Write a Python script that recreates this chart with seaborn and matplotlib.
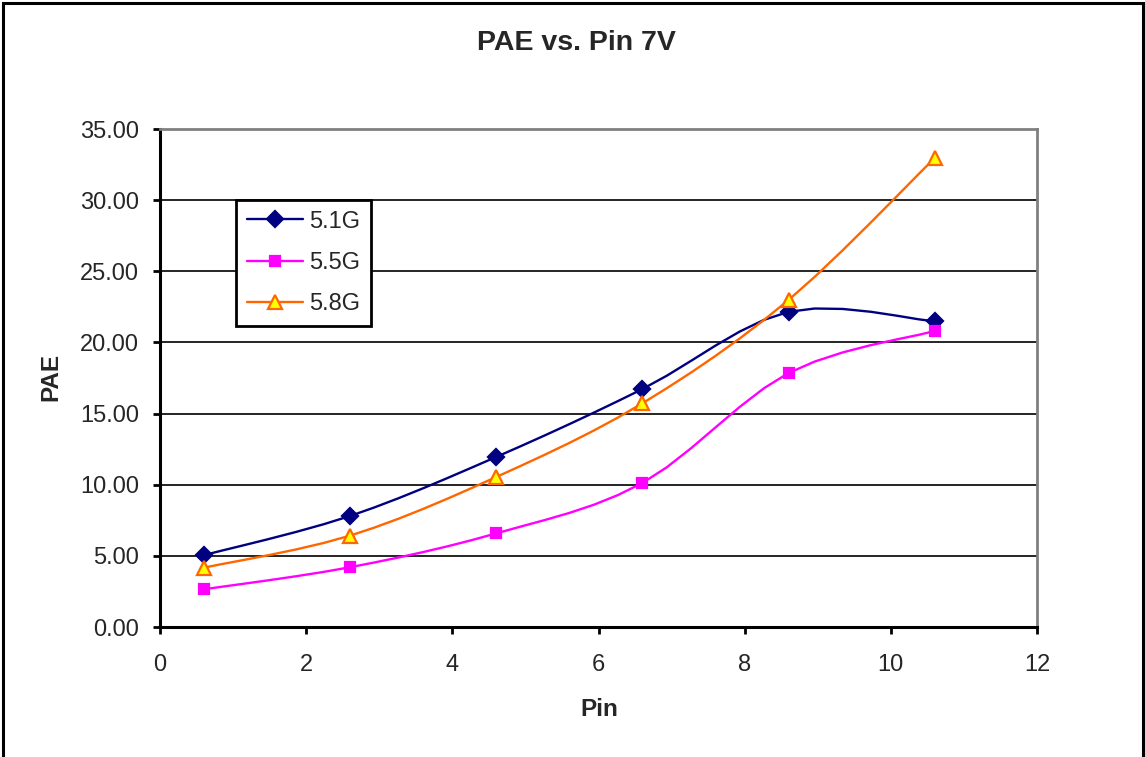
import numpy as np
import pandas as pd
import matplotlib
matplotlib.use("Agg")
import matplotlib.pyplot as plt
from matplotlib.lines import Line2D
import seaborn as sns

# Input power sweep (Pin) and measured PAE for each frequency
pin = [0.6, 2.6, 4.6, 6.6, 8.6, 10.6]
pae_51g = [5.05, 7.80, 11.95, 16.72, 22.15, 21.48]
pae_55g = [2.65, 4.20, 6.58, 10.12, 17.85, 20.80]
pae_58g = [4.17, 6.42, 10.54, 15.72, 22.98, 32.96]

series_names = ["5.1G", "5.5G", "5.8G"]
x_ticks = [0, 2, 4, 6, 8, 10, 12]
y_ticks = [0, 5, 10, 15, 20, 25, 30, 35]

styles = {
    "5.1G": dict(color="#000080", marker="D", mfc="#000080", mec="#000080", ms=8.5),
    "5.5G": dict(color="#FF00FF", marker="s", mfc="#FF00FF", mec="#FF00FF", ms=7.5),
    "5.8G": dict(color="#FF6600", marker="^", mfc="#FFFF00", mec="#FF6600", ms=9.5),
}


def smooth_path(x, y, steps=6):
    """Catmull-Rom style smoothed polyline through the given points."""
    x = np.asarray(x, float)
    y = np.asarray(y, float)
    px = np.concatenate([[x[0]], x, [x[-1]]])
    py = np.concatenate([[y[0]], y, [y[-1]]])
    xs, ys = [x[0]], [y[0]]
    for i in range(1, len(px) - 2):
        p0, p1, p2, p3 = (np.array([px[j], py[j]]) for j in (i - 1, i, i + 1, i + 2))
        c1 = p1 + (p2 - p0) / 6.0
        c2 = p2 - (p3 - p1) / 6.0
        for t in np.linspace(0, 1, steps + 1)[1:]:
            b = ((1 - t) ** 3) * p1 + 3 * ((1 - t) ** 2) * t * c1 + 3 * (1 - t) * t ** 2 * c2 + t ** 3 * p2
            xs.append(b[0])
            ys.append(b[1])
    return np.array(xs), np.array(ys)


sns.set_theme(style="white")
plt.rcParams["font.family"] = ["Liberation Sans", "DejaVu Sans"]

W, H = 1145, 757
fig = plt.figure(figsize=(W / 100, H / 100), dpi=100)
ax = fig.add_axes([160 / W, 1 - 627 / H, 877 / W, 498 / H])

# outer chart border
fig.patches.append(plt.Rectangle((3 / W, -0.01), 1139.5 / W, 1.01 - 3 / H, transform=fig.transFigure,
                                 fill=False, edgecolor="black", linewidth=2.2, zorder=0))

for name, vals in zip(series_names, [pae_51g, pae_55g, pae_58g]):
    st = styles[name]
    sx, sy = smooth_path(pin, vals)
    curve = pd.DataFrame({"Pin": sx, "PAE": sy})
    sns.lineplot(data=curve, x="Pin", y="PAE", ax=ax, color=st["color"], linewidth=1.7,
                 sort=False, estimator=None, zorder=3)
    ax.plot(pin, vals, linestyle="none", marker=st["marker"], markersize=st["ms"],
            markerfacecolor=st["mfc"], markeredgecolor=st["mec"], markeredgewidth=1.6, zorder=4)

ax.set_xlim(0, 12)
ax.set_ylim(0, 35)
ax.set_xticks(x_ticks)
ax.set_yticks(y_ticks)
ax.set_xticklabels([str(v) for v in x_ticks], fontsize=17)
ax.set_yticklabels([f"{v:.2f}" for v in y_ticks], fontsize=17)
ax.yaxis.grid(True, color="black", linewidth=1.2)
ax.xaxis.grid(False)
ax.tick_params(axis="both", which="major", direction="out", length=5, width=2,
               color="black", left=True, bottom=True)
ax.tick_params(axis="x", pad=14.5)
ax.tick_params(axis="y", pad=10)
ax.set_xlabel("")
ax.set_ylabel("")

for side in ("left", "bottom"):
    ax.spines[side].set_color("black")
    ax.spines[side].set_linewidth(2.2)
for side in ("top", "right"):
    ax.spines[side].set_color("#808080")
    ax.spines[side].set_linewidth(2)

fig.text(576.5 / W, 1 - 43 / H, "PAE vs. Pin 7V", fontsize=20.5, fontweight="bold",
         ha="center", va="center")
fig.text(599 / W, 1 - 709 / H, "Pin", fontsize=17.5, fontweight="bold", ha="center", va="center")
fig.text(51 / W, 1 - 377 / H, "PAE", fontsize=17.5, fontweight="bold", ha="center", va="center",
         rotation=90)

handles = [Line2D([0], [0], color=styles[n]["color"], linewidth=1.7, marker=styles[n]["marker"],
                  markersize=styles[n]["ms"], markerfacecolor=styles[n]["mfc"],
                  markeredgecolor=styles[n]["mec"], markeredgewidth=1.6) for n in series_names]
leg = ax.legend(handles, series_names, loc="upper left",
                bbox_to_anchor=((236 - 160) / 877, (627 - 200) / 498), borderaxespad=0,
                fontsize=17, frameon=True, fancybox=False, framealpha=1, edgecolor="black",
                borderpad=0.45, handlelength=2.4, handletextpad=0.25, labelspacing=0.82)
leg.get_frame().set_linewidth(2)
leg.set_zorder(10)

fig.savefig("out.png", dpi=100)
